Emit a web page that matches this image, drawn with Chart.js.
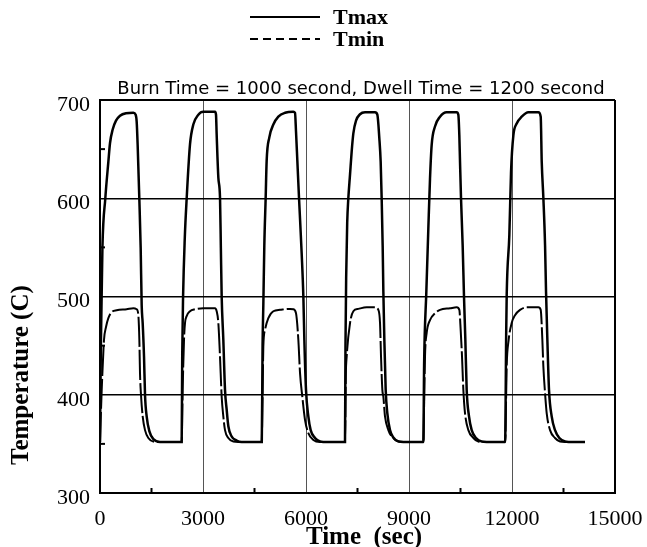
<!DOCTYPE html>
<html>
<head>
<meta charset="utf-8">
<script src="https://cdn.jsdelivr.net/npm/chart.js@4.4.0/dist/chart.umd.min.js"></script>
<style>
  html, body { margin: 0; padding: 0; background: #fff; }
  #wrap { width: 647px; height: 547px; }
</style>
</head>
<body>
<div id="wrap"><canvas id="thermal-cycle-chart"></canvas></div>
<script>
// values: time (s) and temperature (C)
const tmaxTime = [
    0, 25, 70, 155, 243, 291, 369, 466, 583, 757, 971, 1039, 1068, 1097, 1145, 1185, 1214, 1243, 1282, 1311, 1359, 1437, 1553, 1748,
    2379, 2395, 2420, 2470, 2525, 2622, 2718, 2864, 3010, 3350, 3379, 3398, 3447, 3496, 3520, 3544, 3592, 3641, 3689, 3738, 3835, 3981, 4126,
    4712, 4735, 4757, 4786, 4825, 4854, 4932, 5049, 5194, 5389, 5632, 5680, 5709, 5748, 5797, 5875, 5923, 5952, 6000, 6068, 6136, 6262, 6408, 6505,
    7136, 7150, 7170, 7200, 7233, 7282, 7330, 7379, 7457, 7573, 7719, 8010, 8078, 8136, 8175, 8204, 8233, 8253, 8282, 8321, 8369, 8447, 8544, 8690, 8835,
    9418, 9440, 9505, 9563, 9612, 9660, 9757, 9903, 10097, 10388, 10437, 10466, 10486, 10515, 10563, 10602, 10641, 10680, 10748, 10826, 10952, 11117, 11263,
    11800, 11830, 11846, 11923, 11972, 12040, 12137, 12283, 12477, 12768, 12836, 12866, 12914, 12963, 12991, 13030, 13078, 13156, 13253, 13379, 13544, 13650, 14127
];
const tmaxTemp = [
    352, 450, 549, 600, 637, 656, 670, 679, 684, 686.5, 687, 685, 678, 654, 600, 549, 491, 473, 439, 400, 378, 363, 355, 352,
    352, 440, 500, 560, 600, 655, 675, 685, 688, 688, 685, 665, 621, 600, 550, 500, 456, 405, 385, 368, 357.5, 353.4, 352,
    352, 450, 491, 552, 600, 638, 662, 675, 683, 687, 688, 687, 668, 638, 600, 543, 500, 456, 405, 378, 364, 356, 352.4, 352,
    352, 450, 520, 575, 600, 624, 647.5, 666, 679, 685.5, 687.5, 687.5, 685, 661, 637, 600, 552, 505, 456, 405, 381, 364, 356.5, 352.4, 352,
    352, 430, 505, 569, 620, 654, 673, 683, 687.5, 687.5, 685, 664, 637, 600, 552, 500, 456, 405, 378, 364, 356, 352.4, 352,
    352, 460, 502, 563, 627, 664, 676, 683, 687.5, 687.5, 683, 637, 600, 552, 505, 456, 405, 378, 364, 356, 352.4, 352, 352
];
const tminTime = [
    0, 50, 117, 175, 243, 340, 485, 777, 971, 1068, 1117, 1146, 1165, 1194, 1243, 1311, 1408, 1553, 1699,
    2379, 2408, 2447, 2476, 2524, 2622, 2767, 3010, 3350, 3398, 3447, 3495, 3544, 3592, 3641, 3738, 3884, 4029,
    4709, 4738, 4757, 4806, 4903, 5049, 5243, 5534, 5631, 5709, 5777, 5826, 5893, 5971, 6068, 6214, 6408,
    7136, 7160, 7185, 7282, 7379, 7525, 7767, 8010, 8107, 8156, 8185, 8224, 8253, 8301, 8399, 8496, 8641, 8835,
    9418, 9440, 9466, 9515, 9612, 9758, 9903, 10195, 10389, 10466, 10505, 10544, 10583, 10632, 10729, 10875, 11020, 11166,
    11800, 11846, 11900, 11991, 12088, 12234, 12428, 12768, 12836, 12884, 12913, 12962, 13011, 13108, 13253, 13399, 13544, 14127
];
const tminTemp = [
    352, 405, 456, 469, 478, 484, 486, 487, 488, 487, 481, 456, 422, 400, 378, 364, 356, 352.4, 352,
    352, 405, 456, 473, 480, 485, 487, 488, 488, 485, 473, 439, 398, 378, 364, 356, 352.4, 352,
    352, 405, 449, 466, 478, 485, 486.4, 487.4, 487, 483, 456, 422, 398, 374.5, 361, 354, 352,
    352, 420, 439, 473, 485, 487.4, 489, 489, 486.4, 473, 439, 405, 398, 378, 364, 357.5, 353.4, 352,
    352, 390, 439, 463, 476, 483, 486.4, 488, 489, 486.4, 466, 439, 405, 381, 364, 356, 352.4, 352,
    352, 430, 455, 473, 481, 486.4, 489, 489, 486.4, 456, 429, 402, 381, 364, 356, 352.4, 352, 352
];
const seriesNames = ['Tmax', 'Tmin'];
const timeTicks = [0, 3000, 6000, 9000, 12000, 15000];
const tempTicks = [300, 400, 500, 600, 700];
const minorTimeTicks = [1500, 4500, 7500, 10500, 13500];
const minorTempTicks = [350, 450, 550, 650];
const chartTitle = 'Burn Time = 1000 second, Dwell Time = 1200 second';
const xTitle = 'Time  (sec)';
const yTitle = 'Temperature (C)';

function toPoints(times, temps) {
    return times.map((t, i) => ({ x: t, y: temps[i] }));
}

// legend, title, axis titles and the small inner ticks
const extras = {
    id: 'extras',
    afterDraw(chart) {
        const ctx = chart.ctx;
        const area = chart.chartArea;
        const xs = chart.scales.x;
        const ys = chart.scales.y;
        ctx.save();
        ctx.strokeStyle = '#000';
        ctx.fillStyle = '#000';

        ctx.lineWidth = 2;
        minorTimeTicks.forEach(v => {
            const px = xs.getPixelForValue(v);
            ctx.beginPath();
            ctx.moveTo(px, area.bottom);
            ctx.lineTo(px, area.bottom - 5);
            ctx.stroke();
        });
        minorTempTicks.forEach(v => {
            const py = ys.getPixelForValue(v);
            ctx.beginPath();
            ctx.moveTo(area.left, py);
            ctx.lineTo(area.left + 5, py);
            ctx.stroke();
        });

        chart.data.datasets.forEach((ds, i) => {
            const y = 17 + i * 22;
            ctx.setLineDash(i ? [8, 5] : []);
            ctx.lineWidth = 2;
            ctx.beginPath();
            ctx.moveTo(250, y);
            ctx.lineTo(320, y);
            ctx.stroke();
            ctx.setLineDash([]);
            ctx.font = 'bold 22px "Liberation Serif"';
            ctx.textAlign = 'left';
            ctx.textBaseline = 'middle';
            ctx.fillText(ds.label, 333, y + 1);
        });

        ctx.font = '18px "DejaVu Sans"';
        ctx.textAlign = 'center';
        ctx.textBaseline = 'alphabetic';
        ctx.fillText(chartTitle, 361, 94);

        ctx.font = 'bold 25px "Liberation Serif"';
        ctx.fillText(xTitle, 364, 544);

        ctx.translate(28, 465);
        ctx.rotate(-Math.PI / 2);
        ctx.textAlign = 'left';
        ctx.fillText(yTitle, 0, 0);
        ctx.restore();
    }
};

const tickFont = { family: 'Liberation Serif', size: 22 };

new Chart(document.getElementById('thermal-cycle-chart'), {
    type: 'line',
    data: {
        datasets: [
            {
                label: seriesNames[0],
                data: toPoints(tmaxTime, tmaxTemp),
                borderColor: '#000',
                borderWidth: 2.5,
                pointRadius: 0,
                cubicInterpolationMode: 'monotone',
                fill: false
            },
            {
                label: seriesNames[1],
                data: toPoints(tminTime, tminTemp),
                borderColor: '#000',
                borderWidth: 2,
                borderDash: [30, 3],
                pointRadius: 0,
                cubicInterpolationMode: 'monotone',
                fill: false
            }
        ]
    },
    options: {
        responsive: true,
        maintainAspectRatio: false,
        animation: false,
        layout: { padding: { top: 100, right: 32, bottom: 0, left: 0 } },
        plugins: {
            legend: { display: false },
            title: { display: false },
            tooltip: { enabled: false }
        },
        scales: {
            x: {
                type: 'linear',
                min: 0,
                max: 15000,
                afterBuildTicks: s => { s.ticks = timeTicks.map(v => ({ value: v })); },
                afterFit: s => { s.height = 54; s.paddingLeft = 0; s.paddingRight = 0; },
                ticks: {
                    font: tickFont,
                    color: '#000',
                    padding: 13,
                    maxRotation: 0,
                    autoSkip: false,
                    callback: v => String(v)
                },
                grid: {
                    drawTicks: false,
                    color: c => (c.tick && (c.tick.value === 0 || c.tick.value === 15000)) ? '#000' : '#555',
                    lineWidth: c => (c.tick && (c.tick.value === 0 || c.tick.value === 15000)) ? 2 : 1
                },
                border: { color: '#000', width: 2 }
            },
            y: {
                min: 300,
                max: 700,
                afterBuildTicks: s => { s.ticks = tempTicks.map(v => ({ value: v })); },
                afterFit: s => { s.width = 100; s.paddingTop = 0; s.paddingBottom = 0; },
                ticks: {
                    font: tickFont,
                    color: '#000',
                    padding: 10,
                    labelOffset: 5,
                    callback: v => String(v)
                },
                grid: {
                    drawTicks: false,
                    color: '#000',
                    lineWidth: c => (c.tick && (c.tick.value === 300 || c.tick.value === 700)) ? 2 : 1.5
                },
                border: { color: '#000', width: 2 }
            }
        }
    },
    plugins: [extras]
});
</script>
</body>
</html>
